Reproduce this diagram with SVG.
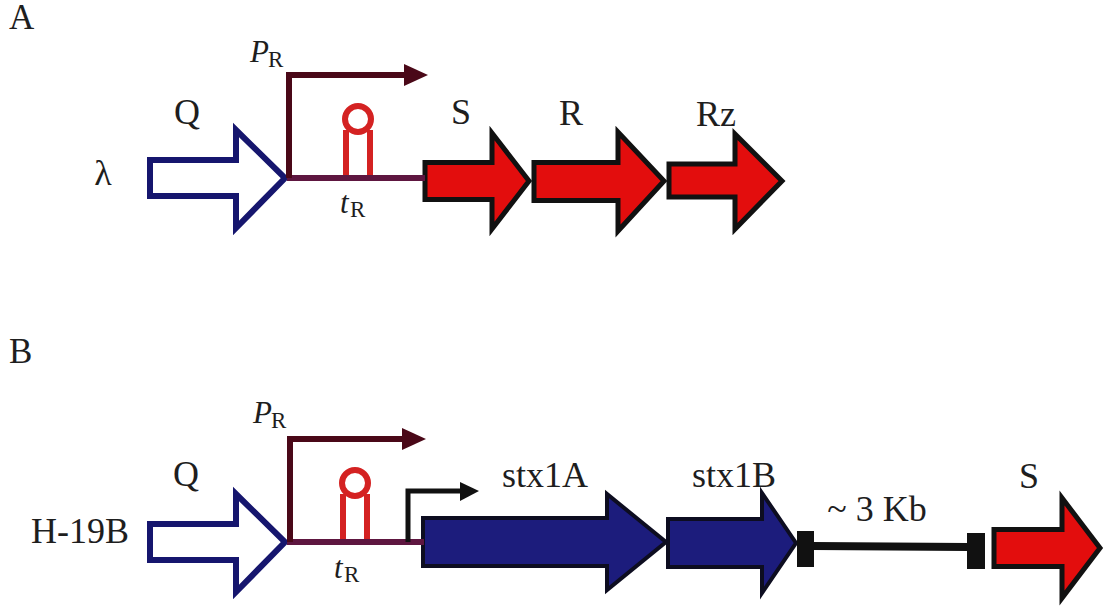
<svg xmlns="http://www.w3.org/2000/svg" width="1104" height="607" viewBox="0 0 1104 607">
  <style>
    text { font-family: "Liberation Serif", "Times New Roman", serif; fill: #1e1e1e; }
    .lbl { font-size: 36px; }
    .panel { font-size: 35px; }
    .it { font-style: italic; font-size: 31px; }
    .sub { font-size: 23px; }
    .hollow { fill: #ffffff; stroke: #16166e; stroke-width: 6; stroke-linejoin: miter; }
    .red { fill: #e30d0d; stroke: #111111; stroke-width: 5; stroke-linejoin: miter; }
    .blue { fill: #1c1c7c; stroke: #0d0d20; stroke-width: 4; stroke-linejoin: miter; }
    .pr { fill: none; stroke: #4a0818; stroke-width: 6; }
    .dna { fill: none; stroke: #5e1640; stroke-width: 6; }
    .term { fill: none; stroke: #d42222; stroke-width: 6; }
    .blk { fill: #111111; }
  </style>
  <defs>
    <!-- Q gene drawn as hollow arrow, reused for both constructs -->
    <polygon id="qArrow" class="hollow" points="150,160 236,160 236,130 285,178 236,228 236,196 150,196"/>
    <!-- rho-independent terminator hairpin -->
    <g id="hairpin">
      <circle class="term" cx="0" cy="-58" r="13"/>
      <path class="term" d="M-12,0 V-47 M12,0 V-47"/>
    </g>
  </defs>

  <!-- panel letters -->
  <text class="panel" x="9" y="29">A</text>
  <text class="panel" x="9" y="363">B</text>

  <!-- ===== construct A ===== -->
  <g id="lambda-label"><text class="lbl" x="103" y="185" text-anchor="middle">λ</text></g>

  <g id="geneQ-A">
    <use href="#qArrow"/>
    <text class="lbl" x="187" y="124" text-anchor="middle">Q</text>
  </g>

  <g id="terminator-A">
    <use href="#hairpin" x="358" y="177"/>
    <text class="it" x="340" y="213">t</text><text class="sub" x="350" y="217">R</text>
  </g>

  <g id="promoter-A-label">
    <text class="it" x="250" y="62">P</text><text class="sub" x="268" y="67">R</text>
  </g>

  <g id="geneS-A">
    <polygon class="red" points="425,162.5 492,162.5 492,133 529,181 492,229 492,199.5 425,199.5"/>
    <text class="lbl" x="461" y="124" text-anchor="middle">S</text>
  </g>
  <g id="geneR-A">
    <polygon class="red" points="534,162.5 618,162.5 618,132 664,181 618,231 618,200.5 534,200.5"/>
    <text class="lbl" x="571" y="125" text-anchor="middle">R</text>
  </g>
  <g id="geneRz-A">
    <polygon class="red" points="669,164 735,164 735,134 782,181 735,229 735,197 669,197"/>
    <text class="lbl" x="716" y="126" text-anchor="middle">Rz</text>
  </g>

  <!-- ===== construct B ===== -->
  <g id="h19b-label"><text class="lbl" x="31" y="543">H-19B</text></g>

  <g id="geneQ-B">
    <use href="#qArrow" y="364"/>
    <text class="lbl" x="186" y="486" text-anchor="middle">Q</text>
  </g>

  <g id="terminator-B">
    <use href="#hairpin" x="355" y="541"/>
    <text class="it" x="334" y="578">t</text><text class="sub" x="344" y="582">R</text>
  </g>

  <g id="promoter-B-label">
    <text class="it" x="253" y="423">P</text><text class="sub" x="271" y="428">R</text>
  </g>

  <g id="stx1A">
    <polygon class="blue" points="423,518 607,518 607,494 666,542 607,590 607,566 423,566"/>
    <text class="lbl" x="545" y="487" text-anchor="middle">stx1A</text>
  </g>
  <g id="stx1B">
    <polygon class="blue" points="668,519 762,519 762,493 796,543 762,593 762,567 668,567"/>
    <text class="lbl" x="734" y="487" text-anchor="middle">stx1B</text>
  </g>

  <g id="gap-3kb">
    <rect class="blk" x="797" y="531" width="17" height="36"/>
    <rect class="blk" x="967" y="533" width="18" height="36"/>
    <text class="lbl" x="877" y="521" text-anchor="middle">~ 3 Kb</text>
  </g>

  <g id="geneS-B">
    <polygon class="red" points="994,529.5 1062,529.5 1062,498 1100,548 1062,598 1062,566.5 994,566.5"/>
    <text class="lbl" x="1029" y="488" text-anchor="middle">S</text>
  </g>

  <!-- ===== connectors: DNA lines and promoter arrows ===== -->
  <g id="connectors">
    <!-- construct A -->
    <line class="dna" x1="287" y1="178" x2="425" y2="178"/>
    <path class="pr" d="M289,178 V75 H408"/>
    <polygon fill="#4a0818" points="404,64 428,75 404,86"/>
    <!-- construct B -->
    <line class="dna" x1="287" y1="542" x2="424" y2="542"/>
    <path class="pr" d="M290,542 V439 H406"/>
    <polygon fill="#4a0818" points="402,428 426,439 402,450"/>
    <!-- stx promoter -->
    <path fill="none" stroke="#111111" stroke-width="5" d="M408,542 V491 H464"/>
    <polygon fill="#111111" points="460,482 479,491 460,501"/>
    <!-- ~3 Kb spacer -->
    <line x1="813" y1="546" x2="968" y2="547" stroke="#111111" stroke-width="8"/>
  </g>
</svg>
